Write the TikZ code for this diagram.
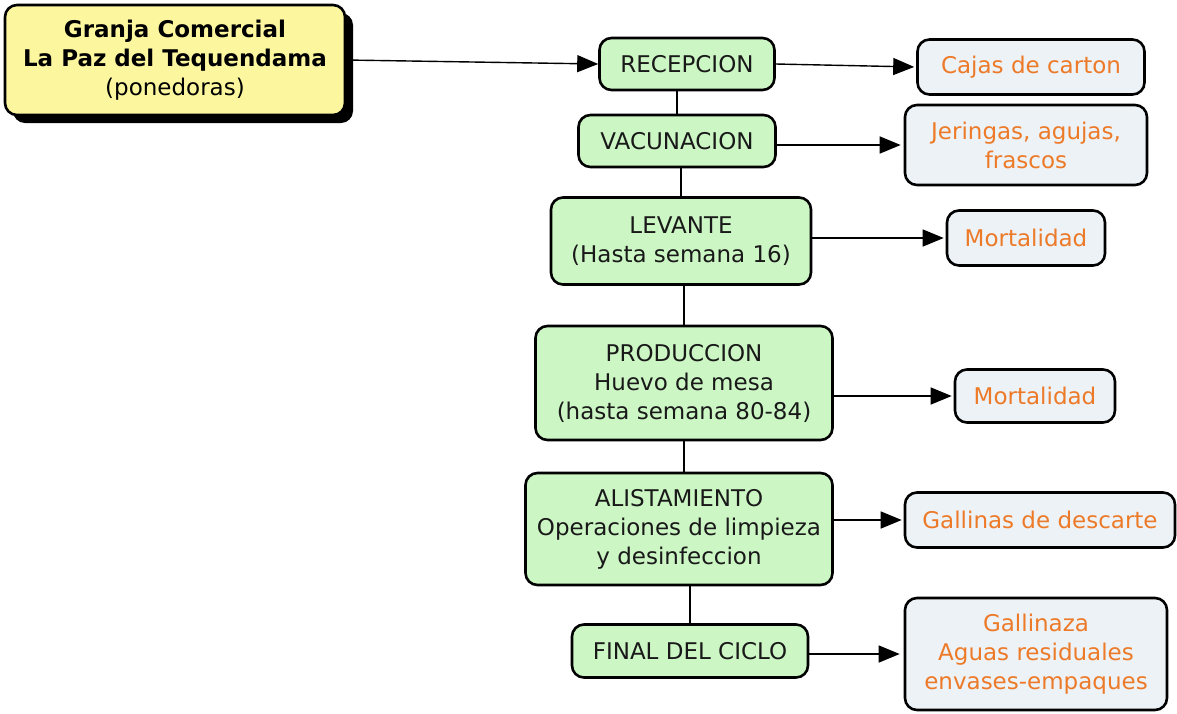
\documentclass[tikz,border=0pt]{standalone}
\usepackage{fontspec}
\setmainfont{DejaVu Sans}
\usepackage{xcolor}
\usetikzlibrary{arrows.meta,shadows}
\definecolor{granjayellow}{RGB}{252,247,158}
\definecolor{etapagreen}{RGB}{204,247,196}
\definecolor{residuogray}{RGB}{236,242,246}
\definecolor{residuoorange}{RGB}{236,122,40}

\begin{document}
\begin{tikzpicture}[x=1pt,y=-1pt,
  every node/.style={font=\fontsize{23}{29}\selectfont,align=center},
  etapa/.style={draw,line width=2.6pt,rounded corners=12pt,fill=etapagreen,text=black!90},
  residuo/.style={draw,line width=2.6pt,rounded corners=12pt,fill=residuogray,text=residuoorange},
  flecha/.style={line width=1.4pt,-{Triangle[length=21pt,width=17pt]}},
  enlace/.style={line width=1.4pt}]
  \useasboundingbox (0,0) rectangle (1177,713);

  \node[draw,line width=2.6pt,rounded corners=12pt,fill=granjayellow,
    minimum width=340pt,minimum height=110pt,
    drop shadow={shadow xshift=8pt,shadow yshift=-8pt,fill=black,opacity=1}]
    (granja) at (175,60) {\textbf{Granja Comercial}\\\textbf{La Paz del Tequendama}\\(ponedoras)};

  % etapas del proceso
  \node[etapa,minimum width=175pt,minimum height=52pt] (recepcion) at (687,64) {RECEPCION};
  \node[etapa,minimum width=197pt,minimum height=52pt] (vacunacion) at (677,141) {VACUNACION};
  \node[etapa,minimum width=260pt,minimum height=87pt] (levante) at (681,241) {LEVANTE\\(Hasta semana 16)};
  \node[etapa,minimum width=297pt,minimum height=114pt] (produccion) at (684,383) {PRODUCCION\\Huevo de mesa\\(hasta semana 80-84)};
  \node[etapa,minimum width=307pt,minimum height=112pt] (alistamiento) at (679,529) {ALISTAMIENTO\\Operaciones de limpieza\\y desinfeccion};
  \node[etapa,minimum width=236pt,minimum height=53pt] (final) at (690,651) {FINAL DEL CICLO};

  % residuos
  \node[residuo,minimum width=227pt,minimum height=55pt] (cajas) at (1031,67) {Cajas de carton};
  \node[residuo,minimum width=242pt,minimum height=80pt] (jeringas) at (1026,145) {Jeringas, agujas,\\frascos};
  \node[residuo,minimum width=158pt,minimum height=55pt] (mortA) at (1026,238) {Mortalidad};
  \node[residuo,minimum width=160pt,minimum height=53pt] (mortB) at (1035,396) {Mortalidad};
  \node[residuo,minimum width=270pt,minimum height=55pt] (descarte) at (1040,520) {Gallinas de descarte};
  \node[residuo,minimum width=262pt,minimum height=112pt] (gallinaza) at (1036,654) {Gallinaza\\Aguas residuales\\envases-empaques};

  \draw[flecha] (granja.east) -- (recepcion.west);

  \draw[enlace] (recepcion.south -| vacunacion.north) -- (vacunacion.north);
  \draw[enlace] (vacunacion.south -| levante.north) -- (levante.north);
  \draw[enlace] (levante.south -| produccion.north) -- (produccion.north);
  \draw[enlace] (produccion.south) -- (produccion.south |- alistamiento.north);
  \draw[enlace] (alistamiento.south -| final.north) -- (final.north);

  \draw[flecha,shorten >=2pt] (recepcion.east) -- (cajas.west);
  \draw[flecha,shorten >=3pt] (vacunacion.east |- jeringas.west) -- (jeringas.west);
  \draw[flecha,shorten >=2pt] (levante.east |- mortA.west) -- (mortA.west);
  \draw[flecha,shorten >=2pt] (produccion.east |- mortB.west) -- (mortB.west);
  \draw[flecha,shorten >=2pt] (alistamiento.east |- descarte.west) -- (descarte.west);
  \draw[flecha,shorten >=4pt] (final.east |- gallinaza.west) -- (gallinaza.west);
\end{tikzpicture}
\end{document}
